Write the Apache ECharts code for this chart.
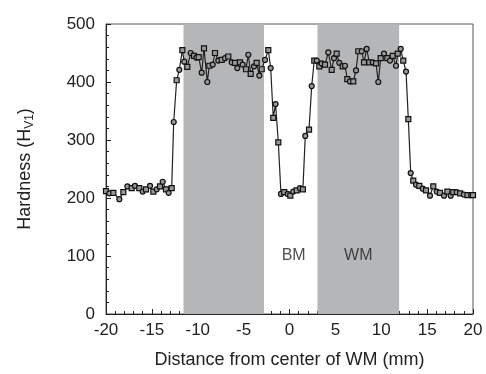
<!DOCTYPE html>
<html><head><meta charset="utf-8">
<script src="https://cdn.jsdelivr.net/npm/echarts@6/dist/echarts.min.js"></script>
<style>html,body{margin:0;padding:0;background:#fff}#c{width:486px;height:374px}</style>
</head><body><div id="c"></div>
<script>
const distance = [-20.0,-19.64,-19.2,-18.55,-18.11,-17.67,-17.2,-16.84,-16.37,-16.0,-15.64,-15.2,-14.84,-14.47,-14.11,-13.82,-13.46,-13.17,-12.84,-12.62,-12.3,-12.01,-11.68,-11.47,-11.14,-10.77,-10.41,-10.15,-9.9,-9.57,-9.32,-8.96,-8.74,-8.37,-8.12,-7.76,-7.39,-7.03,-6.67,-6.30,-5.94,-5.69,-5.40,-5.10,-4.74,-4.49,-4.23,-3.87,-3.58,-3.29,-3.03,-2.67,-2.31,-2.05,-1.77,-1.52,-1.22,-0.93,-0.57,-0.20,0.09,0.41,0.78,1.14,1.46,1.72,2.13,2.42,2.70,2.97,3.25,3.51,3.87,4.23,4.60,4.85,5.14,5.43,5.80,6.05,6.30,6.59,6.95,7.25,7.50,7.87,8.12,8.41,8.70,9.07,9.43,9.68,9.94,10.30,10.66,10.95,11.25,11.61,11.80,12.12,12.40,12.70,12.95,13.21,13.49,13.79,14.15,14.52,14.88,15.31,15.67,16.04,16.40,16.84,17.20,17.57,17.85,18.22,18.6,19.0,19.4,19.8,20.0];
const hardness = [212,208,209,198,210,220,217,221,217,211,215,221,211,215,220,228,215,209,217,331,403,421,455,435,426,450,445,442,443,416,458,400,428,430,450,437,438,441,444,434,433,424,434,430,422,447,414,427,433,411,422,438,455,424,338,362,296,207,210,207,204,211,213,217,215,307,318,393,437,437,427,432,430,451,421,441,449,433,427,428,405,401,401,420,453,453,434,457,434,434,432,400,441,449,441,437,445,428,449,457,437,418,336,243,230,223,221,216,213,204,220,211,209,204,211,204,210,210,208,206,205,205,205];
const shadedZones = [[-11.55,-2.78],[3.05,11.95]];
const zoneLabels = ['BM','WM'];
const zoneLabelX = [0.45,7.5];
const zoneLabelY = [100,100];
const xTicks = {min:-20,max:20,interval:5};
const yTicks = {min:0,max:500,interval:100};

const font = 'Liberation Sans, Arial, sans-serif';
const chart = echarts.init(document.getElementById('c'), null, {renderer:'canvas'});
chart.setOption({
  animation:false,
  backgroundColor:'#fff',
  grid:{left:106,right:13,top:24,bottom:58,show:true,borderColor:'#555',borderWidth:1,backgroundColor:'transparent'},
  xAxis:{type:'value',min:xTicks.min,max:xTicks.max,interval:xTicks.interval,
    name:'Distance from center of WM (mm)',nameLocation:'middle',nameGap:37,
    nameTextStyle:{fontFamily:font,fontSize:18,color:'#222'},
    axisLine:{onZero:false,lineStyle:{color:'#222',width:1}},
    axisTick:{inside:true,length:5,lineStyle:{color:'#222'}},
    minorTick:{show:true,splitNumber:5,length:3,lineStyle:{color:'#222'}},
    axisLabel:{fontFamily:font,fontSize:17,color:'#222',margin:8},
    splitLine:{show:false}},
  yAxis:{type:'value',min:yTicks.min,max:yTicks.max,interval:yTicks.interval,
    name:'{a|Hardness (H}{b|V1}{a|)}',nameLocation:'middle',nameGap:70,nameRotate:90,
    nameTextStyle:{rich:{a:{fontFamily:font,fontSize:18,color:'#222',lineHeight:22},b:{fontFamily:font,fontSize:12,color:'#222',padding:[9,0,0,0]}}},
    axisLine:{onZero:false,lineStyle:{color:'#222',width:1}},
    axisTick:{inside:true,length:5,lineStyle:{color:'#222'}},
    minorTick:{show:true,splitNumber:5,length:3,lineStyle:{color:'#222'}},
    axisLabel:{fontFamily:font,fontSize:17,color:'#222',margin:11},
    splitLine:{show:false}},
  series:[
    {type:'line',data:distance.map((x,i)=>[x,hardness[i]]),
     symbol:(v,p)=>p.dataIndex%2?'circle':'rect',symbolSize:5,showAllSymbol:true,
     lineStyle:{color:'#222',width:1.2},
     itemStyle:{color:'#999',borderColor:'#111',borderWidth:1.2},
     markArea:{silent:true,itemStyle:{color:'#b5b6b8'},data:shadedZones.map(z=>[{xAxis:z[0]},{xAxis:z[1]}])},
     z:3},
    {type:'scatter',data:zoneLabelX.map((x,i)=>[x,zoneLabelY[i],zoneLabels[i]]),symbolSize:0,silent:true,
     label:{show:true,position:'inside',formatter:p=>p.value[2],fontFamily:font,fontSize:16,color:'#222'}}
  ]
});
</script></body></html>
